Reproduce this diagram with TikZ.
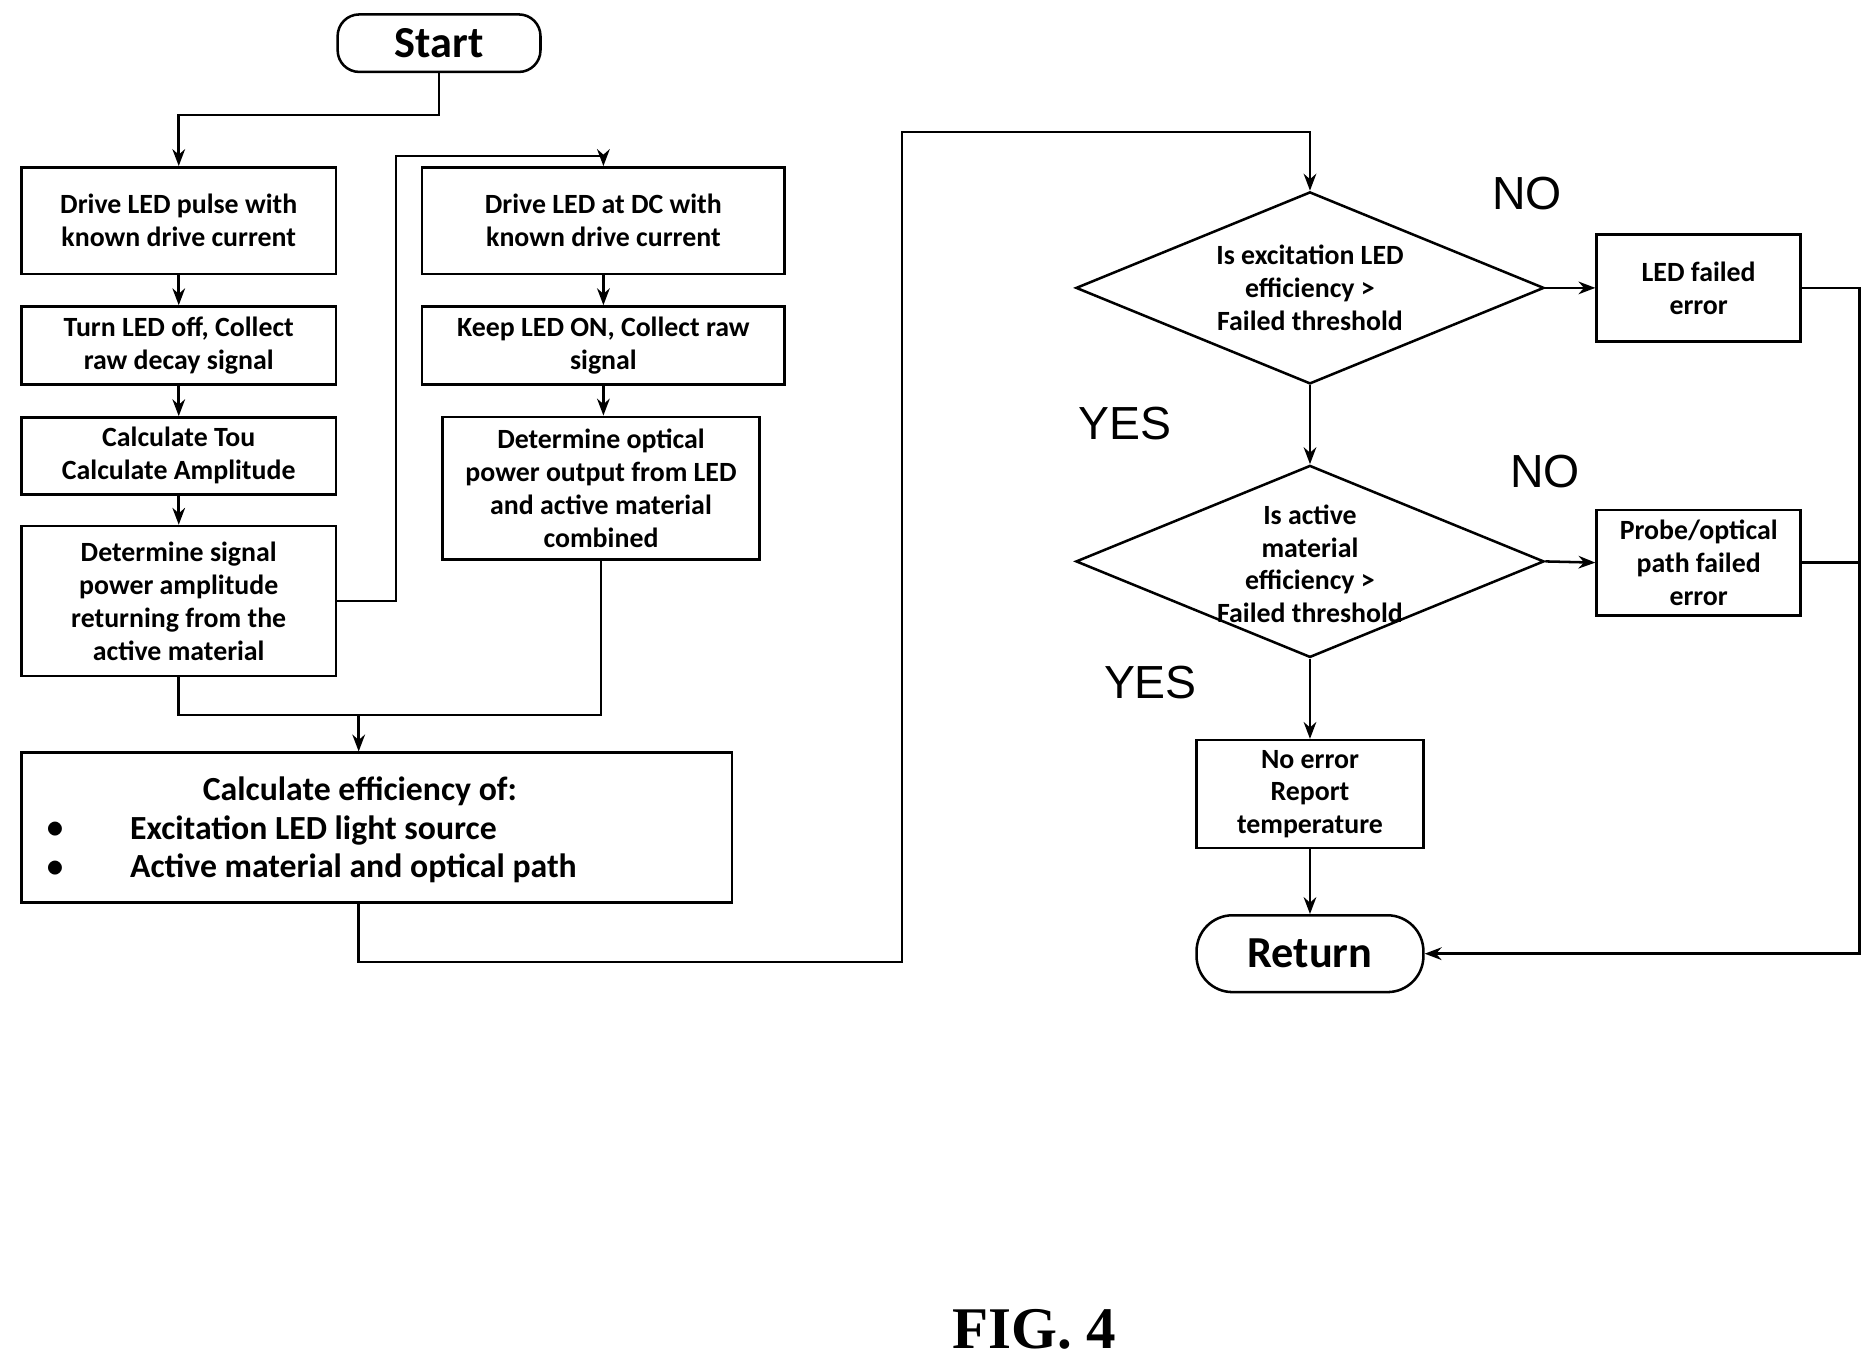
\documentclass[tikz,border=0pt]{standalone}
\usepackage{fontspec}
\setmainfont{Carlito}
\newfontfamily\arialfont{Liberation Sans}
\newfontfamily\timesfont{Liberation Serif}
\usetikzlibrary{shapes.geometric,arrows.meta,positioning}

\begin{document}
\begin{tikzpicture}[x=0.01cm, y=-0.01cm,
    box/.style={rectangle, draw, line width=0.6pt, align=center, inner sep=1pt,
                font=\fontsize{6.6}{7.8}\selectfont\bfseries},
    term/.style={rectangle, rounded corners=0.3cm, draw, line width=0.6pt,
                 font=\fontsize{10.5}{12}\selectfont\bfseries},
    decision/.style={diamond, draw, line width=0.6pt, minimum width=3.9cm,
                     minimum height=1.6cm, inner sep=0pt},
    dtext/.style={align=center, font=\fontsize{6.6}{7.8}\selectfont\bfseries},
    arrow/.style={-{Stealth[length=4pt,width=3pt]}, line width=0.6pt},
    line/.style={line width=0.6pt},
    answer/.style={font=\fontsize{11}{13}\selectfont\arialfont}
]
\useasboundingbox (0,0) rectangle (1563,1140);

% Start
\node[term, minimum width=1.69cm, minimum height=0.36cm, rounded corners=0.18cm] (start) at (366,36) {Start};

% Pulse branch
\node[box, minimum width=2.62cm, minimum height=0.89cm] (pulse) at (149,184) {Drive LED pulse with\\known drive current};
\node[box, minimum width=2.62cm, minimum height=0.65cm] (decay) at (149,288) {Turn LED off, Collect\\raw decay signal};
\node[box, minimum width=2.62cm, minimum height=0.64cm] (tou) at (149,380) {Calculate Tou\\Calculate Amplitude};
\node[box, minimum width=2.62cm, minimum height=1.25cm] (sigpow) at (149,501) {Determine signal\\power amplitude\\returning from the\\active material};

% DC branch
\node[box, minimum width=3.02cm, minimum height=0.89cm] (dc) at (503,184) {Drive LED at DC with\\known drive current};
\node[box, minimum width=3.02cm, minimum height=0.65cm] (raw) at (503,288) {Keep LED ON, Collect raw\\signal};
\node[box, minimum width=2.64cm, minimum height=1.19cm] (optpow) at (501,407) {Determine optical\\power output from LED\\and active material\\combined};

% Efficiency
\node[box, minimum width=5.92cm, minimum height=1.25cm] (calc) at (314,690) {};
\begin{scope}[font=\fontsize{8}{9.5}\selectfont\bfseries]
\node at (300,660) {Calculate efficiency of:};
\node at (46,692) {$\bullet$};
\node[anchor=west] at (96,692) {Excitation LED light source};
\node at (46,724) {$\bullet$};
\node[anchor=west] at (96,724) {Active material and optical path};
\end{scope}

% Decisions
\node[decision] (exc) at (1092,240) {};
\node[dtext] at (exc) {Is excitation LED\\efficiency >\\Failed threshold};
\node[decision] (act) at (1092,468) {};
\node[dtext] at (1092,470) {Is active\\material\\efficiency >\\Failed threshold};
\node[box, minimum width=1.7cm, minimum height=0.89cm] (ledfail) at (1416,240) {LED failed\\error};
\node[box, minimum width=1.7cm, minimum height=0.88cm] (probefail) at (1416,469) {Probe/optical\\path failed\\error};
\node[box, minimum width=1.89cm, minimum height=0.9cm] (noerr) at (1092,662) {No error\\Report\\temperature};
\node[term, minimum width=1.89cm, minimum height=0.64cm] (ret) at (1092,795) {Return};

\node[answer] at (1273,161) {NO};
\node[answer] at (938,353) {YES};
\node[answer] at (1288,393) {NO};
\node[answer] at (959,569) {YES};

\node[font=\fontsize{14}{16}\selectfont\timesfont\bfseries] at (862,1108) {FIG. 4};

% Connectors
\coordinate (join) at (299,596);
\draw[arrow] (start.south) -- (366,96) -| (pulse.north);
\draw[arrow] (pulse) -- (decay);
\draw[arrow] (decay) -- (tou);
\draw[arrow] (tou) -- (sigpow);
\draw[arrow] (sigpow.east) -- (330,501) -- (330,130) -| (dc.north);
\draw[arrow] (dc) -- (raw);
\draw[arrow] (raw.south) -- (raw.south |- optpow.north);
\draw[line] (sigpow.south) |- (join) -| (optpow.south);
\draw[arrow] (join) -- (join |- calc.north);
\draw[arrow] (join |- calc.south) -- (299,802) -- (752,802) -- (752,110) -| (exc.north);
\draw[arrow] (exc.east) -- (ledfail.west);
\draw[arrow] (exc.south) -- (act.north);
\draw[arrow] (act.east) -- (probefail.west);
\draw[arrow] (act.south) -- (noerr.north);
\draw[arrow] (noerr.south) -- (ret.north);
\draw[arrow] (ledfail.east) -- (1550,240) |- (ret.east);
\draw[line] (probefail.east) -- (1550,469);
\end{tikzpicture}
\end{document}
